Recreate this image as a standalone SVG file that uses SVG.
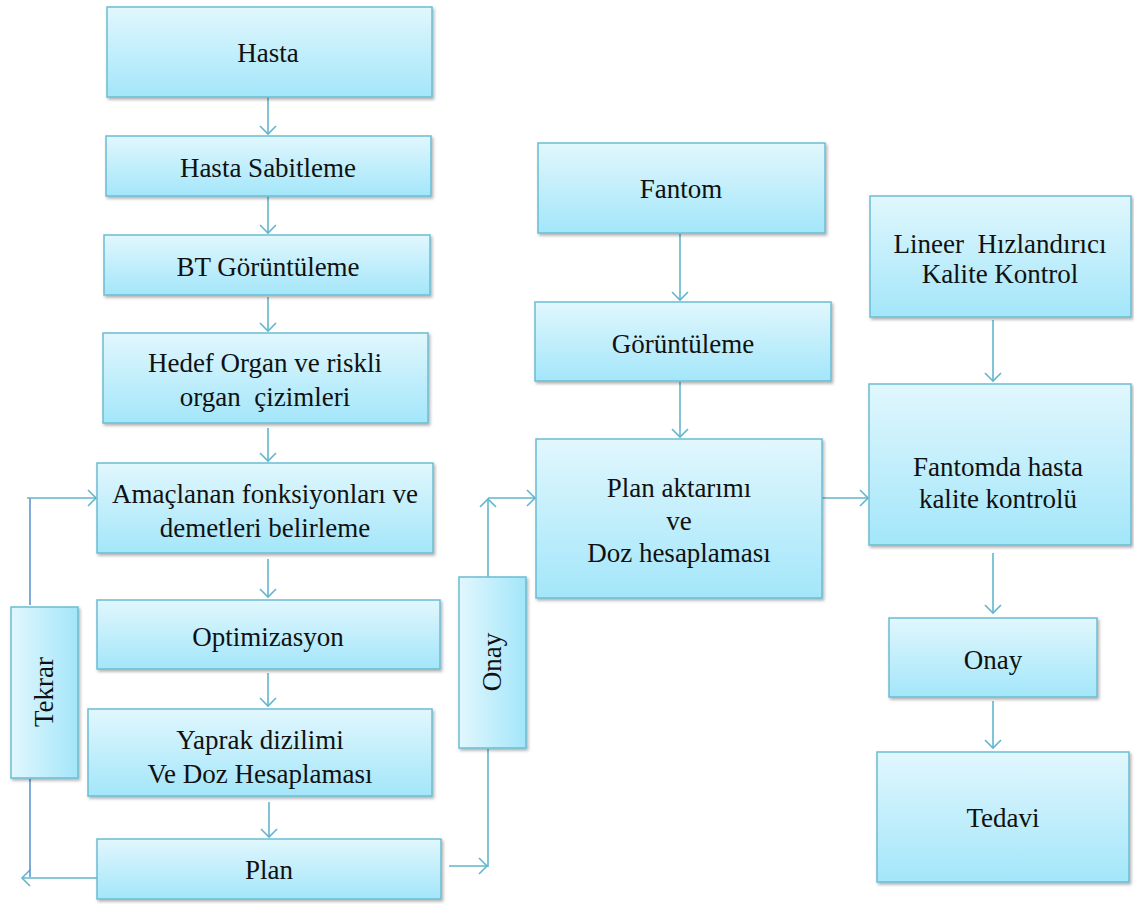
<svg xmlns="http://www.w3.org/2000/svg" width="1134" height="904" viewBox="0 0 1134 904" font-family="Liberation Serif, serif">
<defs>
<linearGradient id="gv" x1="0" y1="0" x2="0" y2="1">
<stop offset="0" stop-color="#e1f7fd"/>
<stop offset="1" stop-color="#a3e6fa"/>
</linearGradient>
<linearGradient id="gh" x1="0" y1="0" x2="1" y2="0">
<stop offset="0" stop-color="#e1f7fd"/>
<stop offset="1" stop-color="#a3e6fa"/>
</linearGradient>
<filter id="sh" x="-10%" y="-10%" width="120%" height="130%">
<feDropShadow dx="1.5" dy="2" stdDeviation="1.5" flood-color="#000" flood-opacity="0.3"/>
</filter>
<marker id="ah" markerUnits="userSpaceOnUse" markerWidth="12" markerHeight="18" refX="9" refY="9" orient="auto">
<path d="M1,1 L9,9 L1,17" fill="none" stroke="#62b6cd" stroke-width="1.6"/>
</marker>
</defs>
<style>
.box{fill:url(#gv);stroke:#6bbcd3;stroke-width:1.5;filter:url(#sh)}
.vbox{fill:url(#gh);stroke:#6bbcd3;stroke-width:1.5;filter:url(#sh)}
.t{font-size:27px;fill:#111;text-anchor:middle}
.c{fill:none;stroke:#62b6cd;stroke-width:1.6}
.b{fill:none;stroke:#4a86c8;stroke-width:1.4}
</style>
<rect width="1134" height="904" fill="#fff"/>
<g id="connectors">
<line class="c" x1="268" y1="97" x2="268" y2="134" marker-end="url(#ah)"/>
<line class="c" x1="268" y1="197" x2="268" y2="233" marker-end="url(#ah)"/>
<line class="c" x1="268" y1="297" x2="268" y2="331" marker-end="url(#ah)"/>
<line class="c" x1="268" y1="428" x2="268" y2="461" marker-end="url(#ah)"/>
<line class="c" x1="268" y1="559" x2="268" y2="597" marker-end="url(#ah)"/>
<line class="c" x1="268" y1="673" x2="268" y2="706" marker-end="url(#ah)"/>
<line class="c" x1="269" y1="802" x2="269" y2="837" marker-end="url(#ah)"/>
<line class="c" x1="97" y1="878" x2="22" y2="878" marker-end="url(#ah)"/>
<line class="b" x1="30" y1="877" x2="30" y2="779"/>
<line class="b" x1="30" y1="605" x2="30" y2="498"/>
<line class="c" x1="27" y1="498" x2="96" y2="498" marker-end="url(#ah)"/>
<line class="c" x1="449" y1="866" x2="487" y2="866" marker-end="url(#ah)"/>
<line class="c" x1="488" y1="867" x2="488" y2="749"/>
<line class="c" x1="488" y1="577" x2="488" y2="499" marker-end="url(#ah)"/>
<line class="c" x1="488" y1="498" x2="535" y2="498" marker-end="url(#ah)"/>
<line class="c" x1="680" y1="234" x2="680" y2="300" marker-end="url(#ah)"/>
<line class="c" x1="680" y1="382" x2="680" y2="437" marker-end="url(#ah)"/>
<line class="c" x1="822" y1="498" x2="868" y2="498" marker-end="url(#ah)"/>
<line class="c" x1="993" y1="320" x2="993" y2="381" marker-end="url(#ah)"/>
<line class="c" x1="993" y1="553" x2="993" y2="613" marker-end="url(#ah)"/>
<line class="c" x1="993" y1="701" x2="993" y2="748" marker-end="url(#ah)"/>
</g>
<g id="n-hasta"><rect class="box" x="107" y="7" width="325" height="90"/><text class="t" x="268" y="62">Hasta</text></g>
<g id="n-sabitleme"><rect class="box" x="106" y="136" width="325" height="60"/><text class="t" x="268" y="177">Hasta Sabitleme</text></g>
<g id="n-bt"><rect class="box" x="104" y="235" width="326" height="60"/><text class="t" x="268" y="276">BT Görüntüleme</text></g>
<g id="n-hedef"><rect class="box" x="103" y="333" width="325" height="90"/><text class="t" x="265" y="372">Hedef Organ ve riskli</text><text class="t" x="265" y="406" xml:space="preserve">organ  çizimleri</text></g>
<g id="n-amac"><rect class="box" x="97" y="463" width="336" height="90"/><text class="t" x="265" y="503">Amaçlanan fonksiyonları ve</text><text class="t" x="265" y="537">demetleri belirleme</text></g>
<g id="n-opt"><rect class="box" x="97" y="600" width="343" height="69"/><text class="t" x="268" y="646">Optimizasyon</text></g>
<g id="n-yaprak"><rect class="box" x="88" y="709" width="344" height="87"/><text class="t" x="260" y="749">Yaprak dizilimi</text><text class="t" x="260" y="783">Ve Doz Hesaplaması</text></g>
<g id="n-plan"><rect class="box" x="97" y="839" width="344" height="60"/><text class="t" x="269" y="879">Plan</text></g>
<g id="n-tekrar"><rect class="vbox" x="11" y="607" width="67" height="171"/><text class="t" transform="translate(53,692) rotate(-90)">Tekrar</text></g>
<g id="n-onay1"><rect class="vbox" x="459" y="577" width="67" height="171"/><text class="t" transform="translate(501,662) rotate(-90)">Onay</text></g>
<g id="n-fantom"><rect class="box" x="538" y="143" width="287" height="90"/><text class="t" x="681" y="198">Fantom</text></g>
<g id="n-goruntuleme"><rect class="box" x="535" y="302" width="296" height="79"/><text class="t" x="683" y="353">Görüntüleme</text></g>
<g id="n-aktarim"><rect class="box" x="536" y="439" width="286" height="159"/><text class="t" x="679" y="497">Plan aktarımı</text><text class="t" x="679" y="530">ve</text><text class="t" x="679" y="562">Doz hesaplaması</text></g>
<g id="n-lineer"><rect class="box" x="870" y="196" width="261" height="121"/><text class="t" x="1000" y="253" xml:space="preserve">Lineer  Hızlandırıcı</text><text class="t" x="1000" y="283">Kalite Kontrol</text></g>
<g id="n-fantomda"><rect class="box" x="869" y="384" width="262" height="161"/><text class="t" x="998" y="476">Fantomda hasta</text><text class="t" x="998" y="508">kalite kontrolü</text></g>
<g id="n-onay2"><rect class="box" x="889" y="618" width="208" height="79"/><text class="t" x="993" y="669">Onay</text></g>
<g id="n-tedavi"><rect class="box" x="877" y="752" width="252" height="130"/><text class="t" x="1003" y="827">Tedavi</text></g>
</svg>
